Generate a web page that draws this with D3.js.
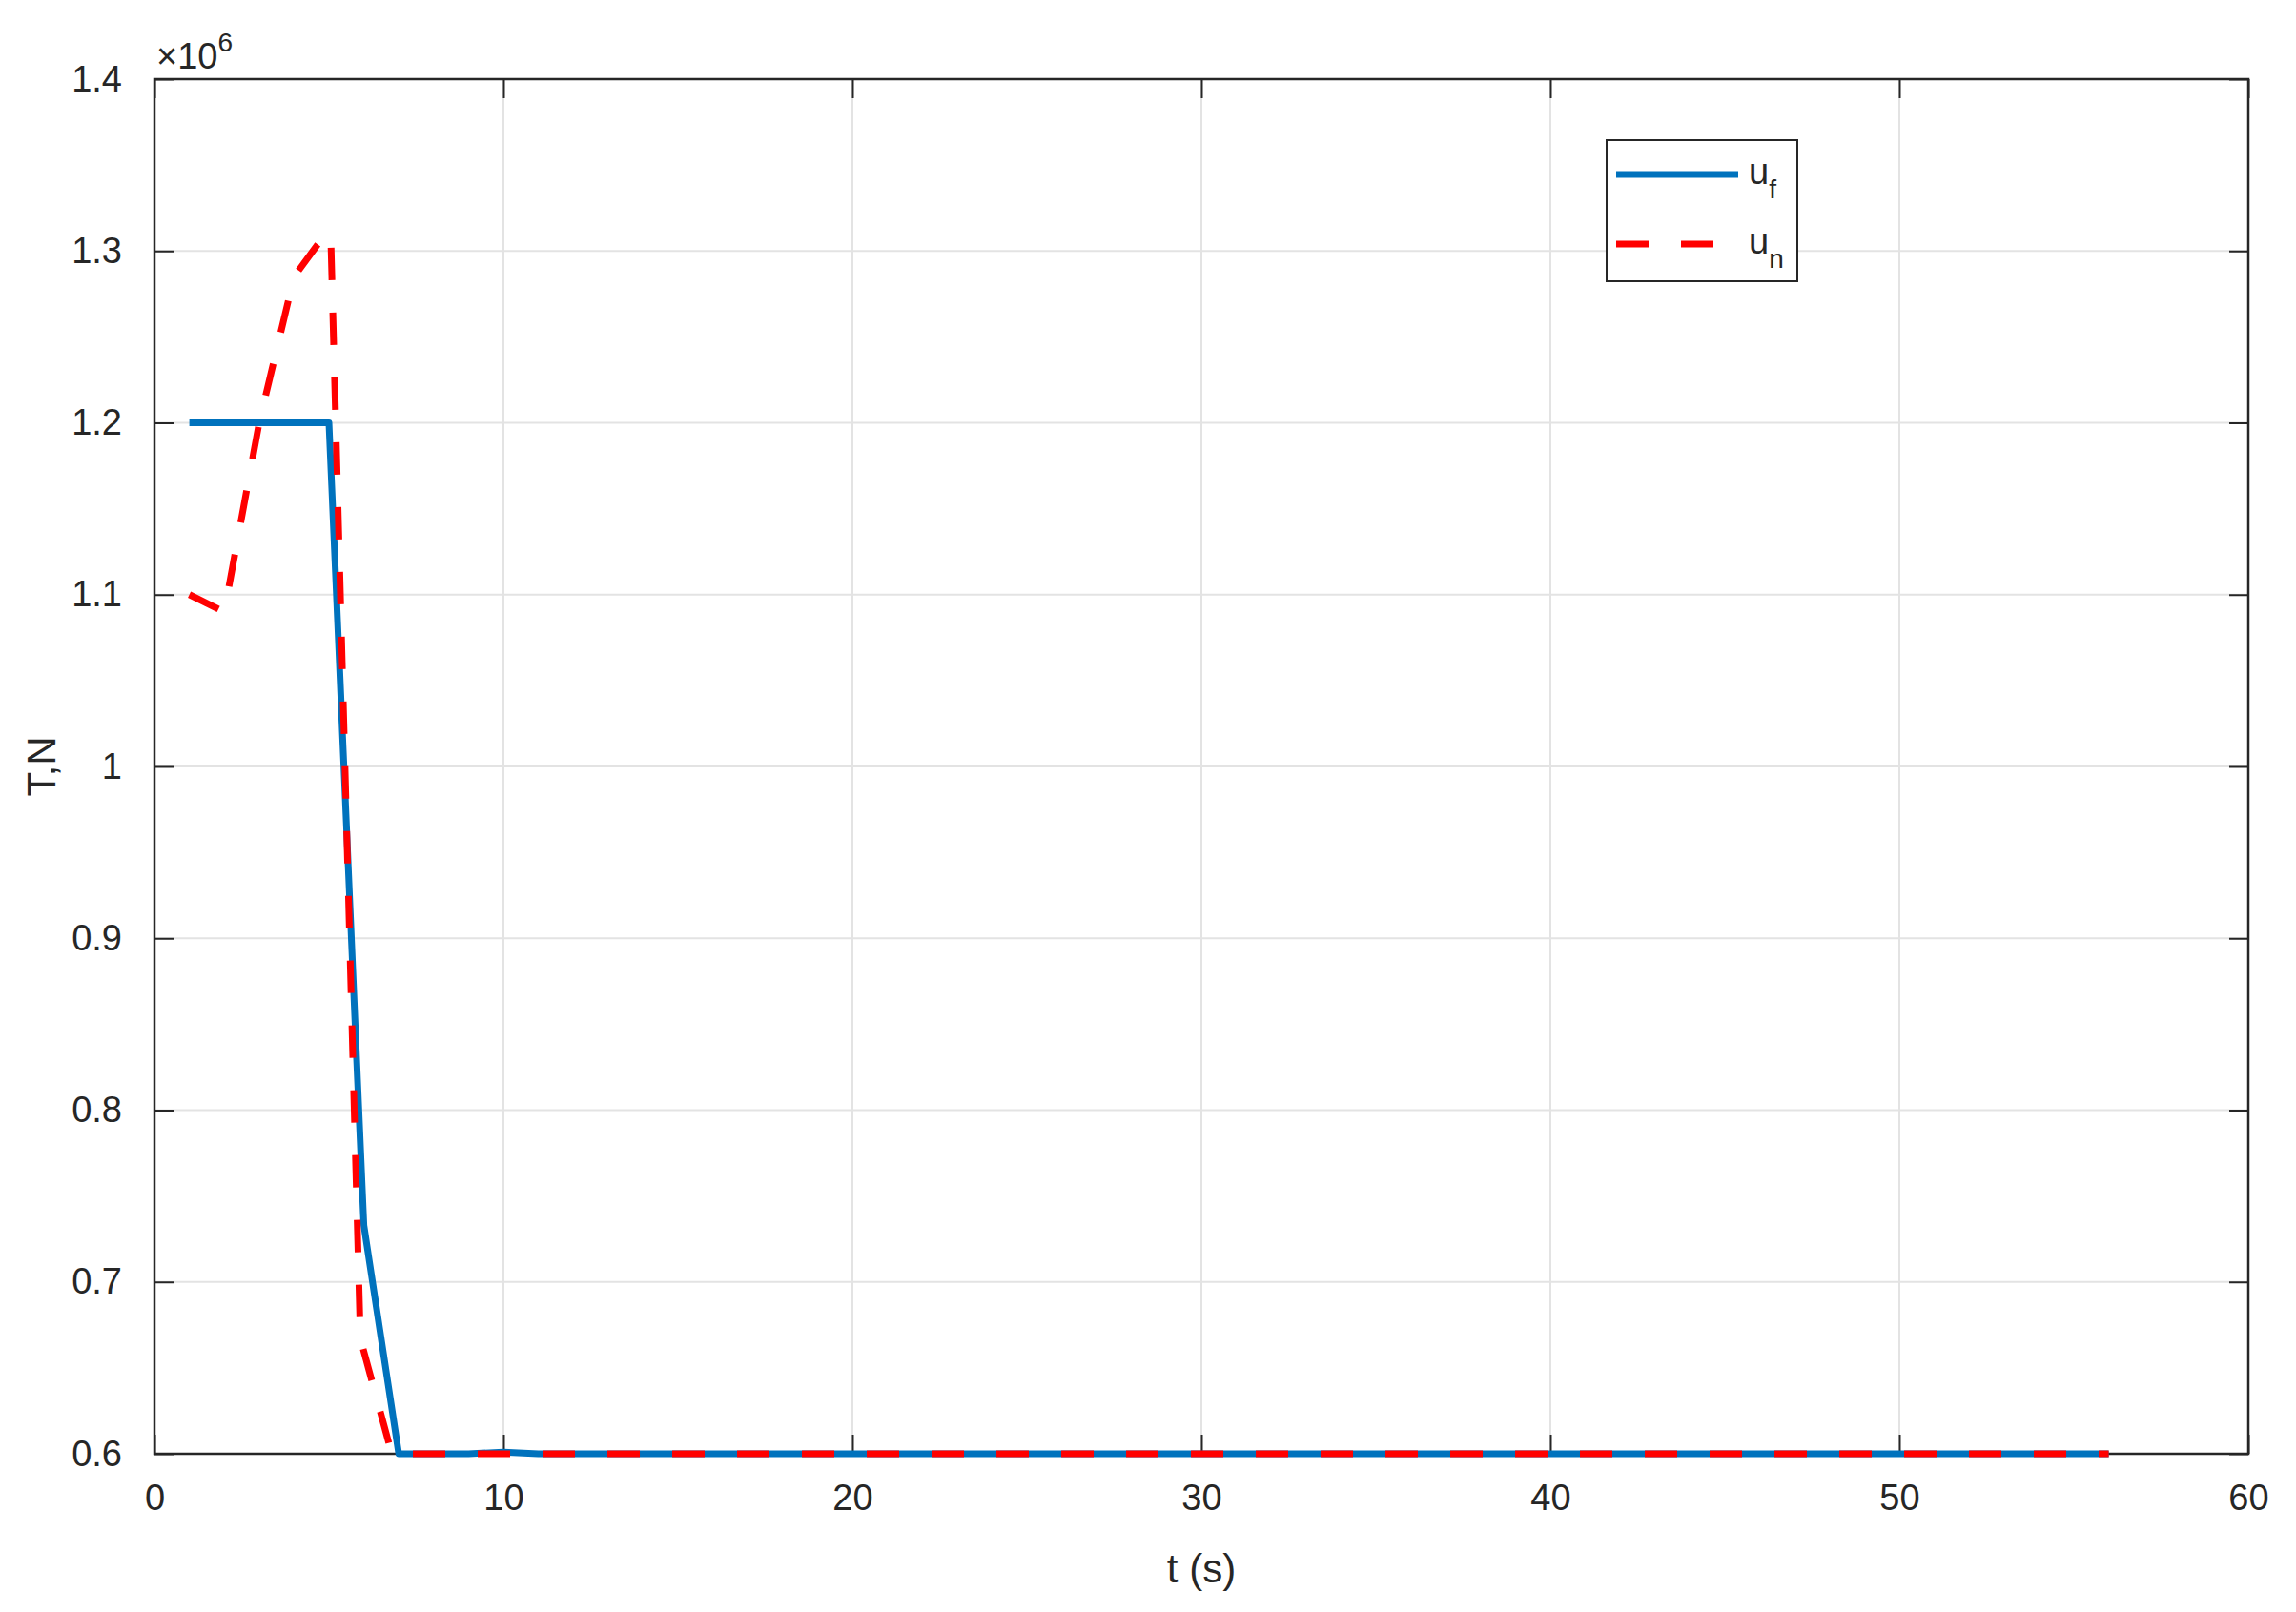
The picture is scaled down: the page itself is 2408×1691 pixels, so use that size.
<!DOCTYPE html>
<html><head><meta charset="utf-8">
<script src="https://cdn.jsdelivr.net/npm/d3@7"></script>
<style>body{margin:0;background:#fff}svg{font-family:"Liberation Sans",Arial,sans-serif}</style>
</head><body><svg id="c" width="2408" height="1691"></svg>
<script>
const ufT = [1,2,3,4,5,6,7,8,9,10,11,12,13,14,15,16,17,18,19,20,21,22,23,24,25,26,27,28,29,30,31,32,33,34,35,36,37,38,39,40,41,42,43,44,45,46,47,48,49,50,51,52,53,54,55,56];
const ufV = [1.2,1.2,1.2,1.2,1.2,0.733,0.6,0.6,0.6,0.601,0.6,0.6,0.6,0.6,0.6,0.6,0.6,0.6,0.6,0.6,0.6,0.6,0.6,0.6,0.6,0.6,0.6,0.6,0.6,0.6,0.6,0.6,0.6,0.6,0.6,0.6,0.6,0.6,0.6,0.6,0.6,0.6,0.6,0.6,0.6,0.6,0.6,0.6,0.6,0.6,0.6,0.6,0.6,0.6,0.6,0.6];
const unT = [1,2,3,4,4.9,5.05,5.9,6.8,7,10,20,30,40,50,56];
const unV = [1.1,1.09,1.2,1.285,1.31,1.31,0.667,0.6,0.6,0.6,0.6,0.6,0.6,0.6,0.6];
const xTicks = [0,10,20,30,40,50,60];
const yTicks = [0.6,0.7,0.8,0.9,1,1.1,1.2,1.3,1.4];
const seriesNames = ["u","u"], seriesSubs = ["f","n"];

const L=162,R=2358,T=83,B=1525;
const svg=d3.select("#c");
const x=d3.scaleLinear().domain([0,60]).range([L,R]);
const y=d3.scaleLinear().domain([0.6,1.4]).range([B,T]);
svg.append("g").selectAll("line").data(xTicks).join("line")
 .attr("x1",d=>x(d)).attr("x2",d=>x(d)).attr("y1",T).attr("y2",B).attr("stroke","#e3e3e3").attr("stroke-width",2);
svg.append("g").selectAll("line").data(yTicks).join("line")
 .attr("y1",d=>y(d)).attr("y2",d=>y(d)).attr("x1",L).attr("x2",R).attr("stroke","#e3e3e3").attr("stroke-width",2);
const fmt=d=>d3.format("")(+d.toFixed(1));
const ax=(g,a)=>{g.call(a);g.select(".domain").remove();g.selectAll("line").attr("stroke","#262626").attr("stroke-width",2);g.selectAll("text").attr("fill","#262626").style("font-size","38px");};
svg.append("g").attr("transform",`translate(0,${B})`).call(g=>ax(g,d3.axisBottom(x).tickValues(xTicks).tickSize(-20).tickPadding(32)));
svg.append("g").attr("transform",`translate(0,${T})`).call(g=>{g.call(d3.axisTop(x).tickValues(xTicks).tickSize(-20).tickFormat(""));g.select(".domain").remove();g.selectAll("line").attr("stroke","#262626").attr("stroke-width",2);});
svg.append("g").attr("transform",`translate(${L},0)`).call(g=>ax(g,d3.axisLeft(y).tickValues(yTicks).tickSize(-20).tickPadding(34).tickFormat(fmt)));
svg.append("g").attr("transform",`translate(${R},0)`).call(g=>{g.call(d3.axisRight(y).tickValues(yTicks).tickSize(-20).tickFormat(""));g.select(".domain").remove();g.selectAll("line").attr("stroke","#262626").attr("stroke-width",2);});
svg.append("rect").attr("x",L).attr("y",T).attr("width",R-L).attr("height",B-T).attr("fill","none").attr("stroke","#262626").attr("stroke-width",2.5);
const line=d3.line().x(d=>x(d[0])).y(d=>y(d[1]));
svg.append("path").datum(ufT.map((t,i)=>[t,ufV[i]])).attr("d",line).attr("fill","none").attr("stroke","#0072BD").attr("stroke-width",7).attr("stroke-linejoin","round");
svg.append("path").datum(unT.map((t,i)=>[t,unV[i]])).attr("d",line).attr("fill","none").attr("stroke","#FF0000").attr("stroke-width",7).attr("stroke-dasharray","34,34");
svg.append("text").attr("x",(L+R)/2).attr("y",1660).attr("text-anchor","middle").style("font-size","42px").attr("fill","#262626").text("t (s)");
svg.append("text").attr("transform",`translate(58,${(T+B)/2}) rotate(-90)`).attr("text-anchor","middle").style("font-size","42px").attr("fill","#262626").text("T,N");
const ex=svg.append("text").attr("x",164).attr("y",72).style("font-size","38px").attr("fill","#262626");
ex.append("tspan").text("×10");ex.append("tspan").attr("dy",-18).style("font-size","28px").text("6");
const lg=svg.append("g");
lg.append("rect").attr("x",1685).attr("y",147).attr("width",200).attr("height",148).attr("fill","#fff").attr("stroke","#262626").attr("stroke-width",2);
const ly=[183,256];
lg.append("line").attr("x1",1695).attr("x2",1823).attr("y1",ly[0]).attr("y2",ly[0]).attr("stroke","#0072BD").attr("stroke-width",7);
lg.append("line").attr("x1",1695).attr("x2",1823).attr("y1",ly[1]).attr("y2",ly[1]).attr("stroke","#FF0000").attr("stroke-width",7).attr("stroke-dasharray","34,34");
seriesNames.forEach((n,i)=>{const t=lg.append("text").attr("x",1834).attr("y",ly[i]+10).style("font-size","38px").attr("fill","#262626");
 t.append("tspan").text(n);t.append("tspan").attr("dy",15).style("font-size","28px").text(seriesSubs[i]);});
</script></body></html>
